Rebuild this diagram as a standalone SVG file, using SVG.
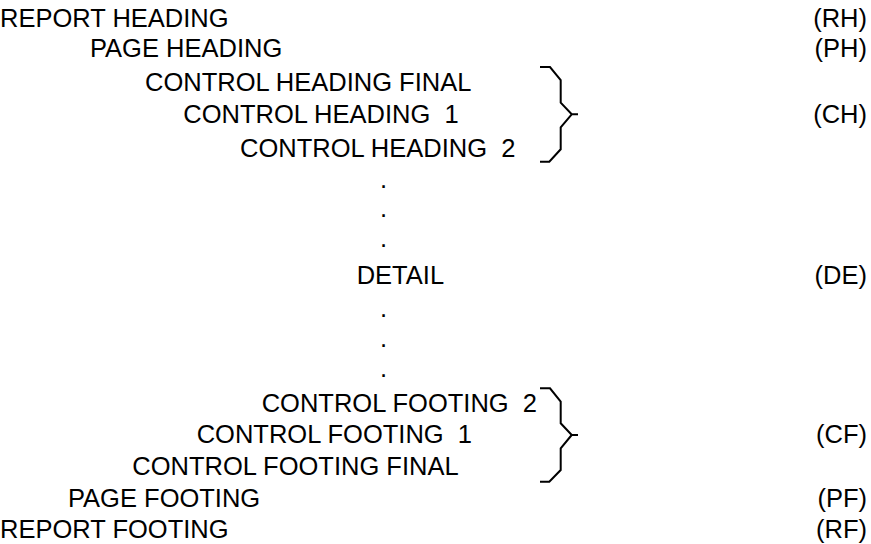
<svg xmlns="http://www.w3.org/2000/svg" width="871" height="544" viewBox="0 0 871 544">
<style>
text{font-family:"Liberation Sans",Arial,sans-serif;font-size:25.5px;fill:#000;white-space:pre}
.r{text-anchor:end}
.br{fill:none;stroke:#000;stroke-width:2;stroke-linejoin:miter}
</style>
<rect width="871" height="544" fill="#fff"/>
<g id="rh"><text x="0" y="26.7">REPORT HEADING</text><text class="r" x="867" y="26.7">(RH)</text></g>
<g id="ph"><text x="90" y="57">PAGE HEADING</text><text class="r" x="867" y="57">(PH)</text></g>
<g id="chf"><text x="145" y="90.7">CONTROL HEADING FINAL</text></g>
<g id="ch1"><text x="183.3" y="123.3">CONTROL HEADING  1</text><text class="r" x="867" y="123.3">(CH)</text></g>
<g id="ch2"><text x="240" y="156.7">CONTROL HEADING  2</text></g>
<g id="dots1"><text x="380" y="188">.</text><text x="380" y="217">.</text><text x="380" y="247">.</text></g>
<g id="de"><text x="356.7" y="284">DETAIL</text><text class="r" x="867" y="284">(DE)</text></g>
<g id="dots2"><text x="380" y="317">.</text><text x="380" y="347">.</text><text x="380" y="377">.</text></g>
<g id="cf2"><text x="261.7" y="411.7">CONTROL FOOTING  2</text></g>
<g id="cf1"><text x="196.7" y="443.3">CONTROL FOOTING  1</text><text class="r" x="867" y="443.3">(CF)</text></g>
<g id="cff"><text x="132.3" y="475">CONTROL FOOTING FINAL</text></g>
<g id="pf"><text x="68" y="506.7">PAGE FOOTING</text><text class="r" x="867" y="506.7">(PF)</text></g>
<g id="rf"><text x="0" y="538.3">REPORT FOOTING</text><text class="r" x="867" y="538.3">(RF)</text></g>
<g id="connectors">
<path class="br" d="M540,67 H550 L560.7,80 V102.7 L571.7,114.3 H578 M571.7,114.3 L560.7,127.3 V149.3 L549.3,161.7 H540"/>
<path class="br" d="M540,388.3 H550 L560.7,401.7 V423.3 L571.7,435 H578 M571.7,435 L560.7,448.3 V470 L549.3,481.7 H540"/>
</g>
</svg>
